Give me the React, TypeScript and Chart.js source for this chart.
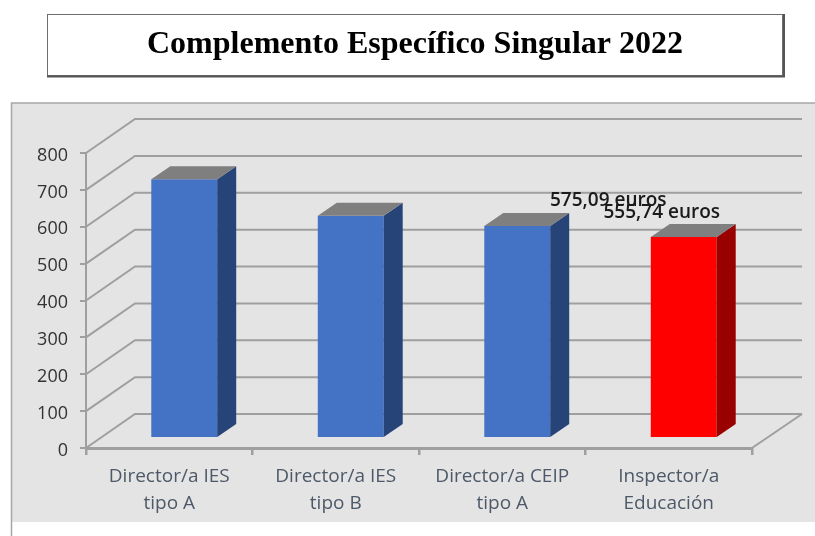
import React, { useEffect, useRef } from "react";
import { Chart, registerables } from "chart.js";

Chart.register(...registerables);

const chartTitle = "Complemento Específico Singular 2022";
const categories = [
  ["Director/a IES", "tipo A"],
  ["Director/a IES", "tipo B"],
  ["Director/a CEIP", "tipo A"],
  ["Inspector/a", "Educación"],
];
const values = [702, 603, 575, 545];
const frontColors = ["#4472c4", "#4472c4", "#4472c4", "#ff0000"];
const sideColors = ["#264478", "#264478", "#264478", "#990000"];
const valueLabels = ["", "", "575,09 euros", "555,74 euros"];
const labelOffsets = [[0, 0], [0, 0], [91, -25], [-22, -24]];

const WALL_DX = 49;
const WALL_DY = -34;
const BAR_SHIFT_X = 15;
const BAR_SHIFT_Y = -10;
const DEPTH_DX = 19;
const DEPTH_DY = -13;
const LINE = "#9f9f9f";

const scene = {
  id: "scene",
  beforeDraw(chart: any) {
    const { ctx, width, height } = chart;
    ctx.save();
    ctx.fillStyle = "#ffffff";
    ctx.fillRect(0, 0, width, height);
    ctx.fillStyle = "#e4e4e4";
    ctx.fillRect(11, 103, width - 11, 419);
    ctx.strokeStyle = "#a6a6a6";
    ctx.lineWidth = 1.5;
    ctx.beginPath();
    ctx.moveTo(11.5, height);
    ctx.lineTo(11.5, 103);
    ctx.lineTo(width, 103);
    ctx.stroke();
    // title box
    ctx.fillStyle = "#ffffff";
    ctx.fillRect(47, 14, 736, 62);
    ctx.strokeStyle = "#6e6e6e";
    ctx.lineWidth = 1;
    ctx.strokeRect(47.5, 14.5, 735, 61);
    ctx.strokeStyle = "#555555";
    ctx.lineWidth = 2;
    ctx.beginPath();
    ctx.moveTo(47, 76.5);
    ctx.lineTo(784, 76.5);
    ctx.lineTo(784, 14);
    ctx.stroke();
    ctx.restore();
  },
  beforeDatasetsDraw(chart: any) {
    const { ctx, chartArea, scales } = chart;
    ctx.save();
    ctx.strokeStyle = LINE;
    ctx.lineWidth = 2;
    for (const t of scales.y.ticks) {
      const y = scales.y.getPixelForValue(t.value);
      ctx.beginPath();
      ctx.moveTo(chartArea.left, y);
      ctx.lineTo(chartArea.left + WALL_DX, y + WALL_DY);
      ctx.lineTo(chartArea.right + WALL_DX + 1, y + WALL_DY);
      ctx.stroke();
    }
    const y0 = scales.y.getPixelForValue(0);
    ctx.beginPath();
    ctx.moveTo(chartArea.right, y0);
    ctx.lineTo(chartArea.right + WALL_DX + 1, y0 + WALL_DY);
    ctx.stroke();
    ctx.restore();
    // bars stand in the middle of the floor's depth
    ctx.save();
    ctx.translate(BAR_SHIFT_X, BAR_SHIFT_Y);
  },
  afterDatasetsDraw(chart: any) {
    const { ctx } = chart;
    const meta = chart.getDatasetMeta(0);
    meta.data.forEach((bar: any, i: number) => {
      const half = bar.width / 2;
      const l = bar.x - half;
      const r = bar.x + half;
      const t = bar.y;
      const b = bar.base;
      ctx.fillStyle = sideColors[i];
      ctx.beginPath();
      ctx.moveTo(r, t);
      ctx.lineTo(r + DEPTH_DX, t + DEPTH_DY);
      ctx.lineTo(r + DEPTH_DX, b + DEPTH_DY);
      ctx.lineTo(r, b);
      ctx.closePath();
      ctx.fill();
      ctx.fillStyle = "#7f7f7f";
      ctx.beginPath();
      ctx.moveTo(l, t);
      ctx.lineTo(l + DEPTH_DX, t + DEPTH_DY);
      ctx.lineTo(r + DEPTH_DX, t + DEPTH_DY);
      ctx.lineTo(r, t);
      ctx.closePath();
      ctx.fill();
    });
    ctx.restore();
    ctx.save();
    ctx.fillStyle = "#1a1a1a";
    ctx.font = "600 19px 'Open Sans'";
    ctx.textAlign = "center";
    ctx.textBaseline = "middle";
    meta.data.forEach((bar: any, i: number) => {
      if (!valueLabels[i]) return;
      ctx.fillText(
        valueLabels[i],
        bar.x + BAR_SHIFT_X + labelOffsets[i][0],
        bar.y + BAR_SHIFT_Y + labelOffsets[i][1]
      );
    });
    ctx.restore();
  },
};

export default function App() {
  const ref = useRef<HTMLCanvasElement>(null);
  useEffect(() => {
    const chart = new Chart(ref.current!, {
      type: "bar",
      data: {
        labels: categories,
        datasets: [
          {
            data: values,
            backgroundColor: frontColors,
            barPercentage: 0.396,
            categoryPercentage: 1,
            yAxisID: "y",
          },
        ],
      },
      plugins: [scene],
      options: {
        animation: false,
        responsive: false,
        layout: { padding: { left: 15, right: 0, top: 0, bottom: 0 } },
        plugins: {
          legend: { display: false },
          tooltip: { enabled: false },
          title: {
            display: true,
            text: chartTitle,
            color: "#000000",
            font: { family: "'Liberation Serif'", weight: "bold", size: 32 },
            padding: { top: 26, bottom: 88.6 },
          },
        },
        scales: {
          y: {
            min: 0,
            max: 800,
            afterFit(s: any) {
              s.width = 71;
            },
            ticks: {
              stepSize: 100,
              color: "#333333",
              font: { family: "'Open Sans'", size: 18 },
              padding: 12,
              labelOffset: 2.5,
            },
            border: { color: LINE, width: 2 },
            grid: { drawOnChartArea: false, color: LINE, tickLength: 6, lineWidth: 2 },
          },
          // empty axis that reserves the room for the wall's depth on the right
          depth: {
            type: "linear",
            position: "right",
            min: 0,
            max: 800,
            afterFit(s: any) {
              s.width = 63;
            },
            ticks: { display: false },
            border: { display: false },
            grid: { display: false },
          },
          x: {
            afterFit(s: any) {
              s.height = 88;
            },
            ticks: {
              color: "#4d5968",
              font: { family: "'Open Sans'", size: 19, lineHeight: 1.42 },
              padding: 8,
              maxRotation: 0,
            },
            border: { color: LINE, width: 3 },
            grid: { drawOnChartArea: false, color: LINE, tickLength: 7, lineWidth: 2.5 },
          },
        },
      },
    } as any);
    return () => chart.destroy();
  }, []);
  return (
    <canvas
      ref={ref}
      width={815}
      height={536}
      style={{ position: "absolute", left: 0, top: 0, display: "block" }}
    />
  );
}
